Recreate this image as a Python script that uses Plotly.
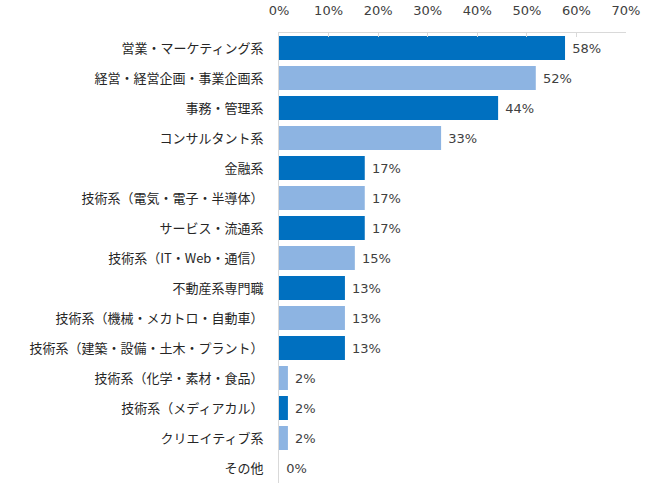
import plotly.graph_objects as go

categories = [
    "営業・マーケティング系",
    "経営・経営企画・事業企画系",
    "事務・管理系",
    "コンサルタント系",
    "金融系",
    "技術系（電気・電子・半導体）",
    "サービス・流通系",
    "技術系（IT・Web・通信）",
    "不動産系専門職",
    "技術系（機械・メカトロ・自動車）",
    "技術系（建築・設備・土木・プラント）",
    "技術系（化学・素材・食品）",
    "技術系（メディアカル）",
    "クリエイティブ系",
    "その他",
]
values = [57.7, 51.8, 44.2, 32.7, 17.3, 17.3, 17.3, 15.3, 13.3, 13.3, 13.3, 1.8, 1.8, 1.8, 0]
labels = [f"{round(v)}%" for v in values]

dark = "#0070C0"
light = "#8DB4E2"
colors = [dark if i % 2 == 0 else light for i in range(len(values))]

font_family = "Noto Sans CJK JP, Noto Sans, sans-serif"
num_font = "DejaVu Sans, Verdana, sans-serif"

fig = go.Figure(
    go.Bar(
        x=values,
        y=categories,
        orientation="h",
        marker=dict(color=colors, line=dict(width=0)),
        text=[" " + t for t in labels],
        textposition="outside",
        textfont=dict(size=13, color="#404040", family=num_font),
        cliponaxis=False,
        hoverinfo="skip",
    )
)

fig.update_layout(
    width=650,
    height=501,
    margin=dict(l=279, r=24, t=33, b=18, autoexpand=False),
    plot_bgcolor="white",
    paper_bgcolor="white",
    bargap=0.2,
    showlegend=False,
    font=dict(family=font_family, color="#262626", size=13),
    xaxis=dict(
        side="top",
        range=[0, 70],
        dtick=10,
        ticksuffix="%",
        showgrid=False,
        zeroline=False,
        showline=True,
        linecolor="#D9D9D9",
        linewidth=1,
        ticks="inside",
        ticklen=4,
        tickcolor="#D9D9D9",
        ticklabelstandoff=12,
        automargin=False,
        tickfont=dict(size=13, color="#404040", family=num_font),
        fixedrange=True,
    ),
    yaxis=dict(
        autorange="reversed",
        showgrid=False,
        showline=True,
        linecolor="#D9D9D9",
        linewidth=1,
        ticks="",
        ticklabelstandoff=12,
        automargin=False,
        tickfont=dict(size=13, color="#262626", family=font_family),
        fixedrange=True,
    ),
)

fig.write_html(
    "out.html",
    config={"displayModeBar": False, "staticPlot": True},
    post_script="document.body.style.margin='0';",
)
